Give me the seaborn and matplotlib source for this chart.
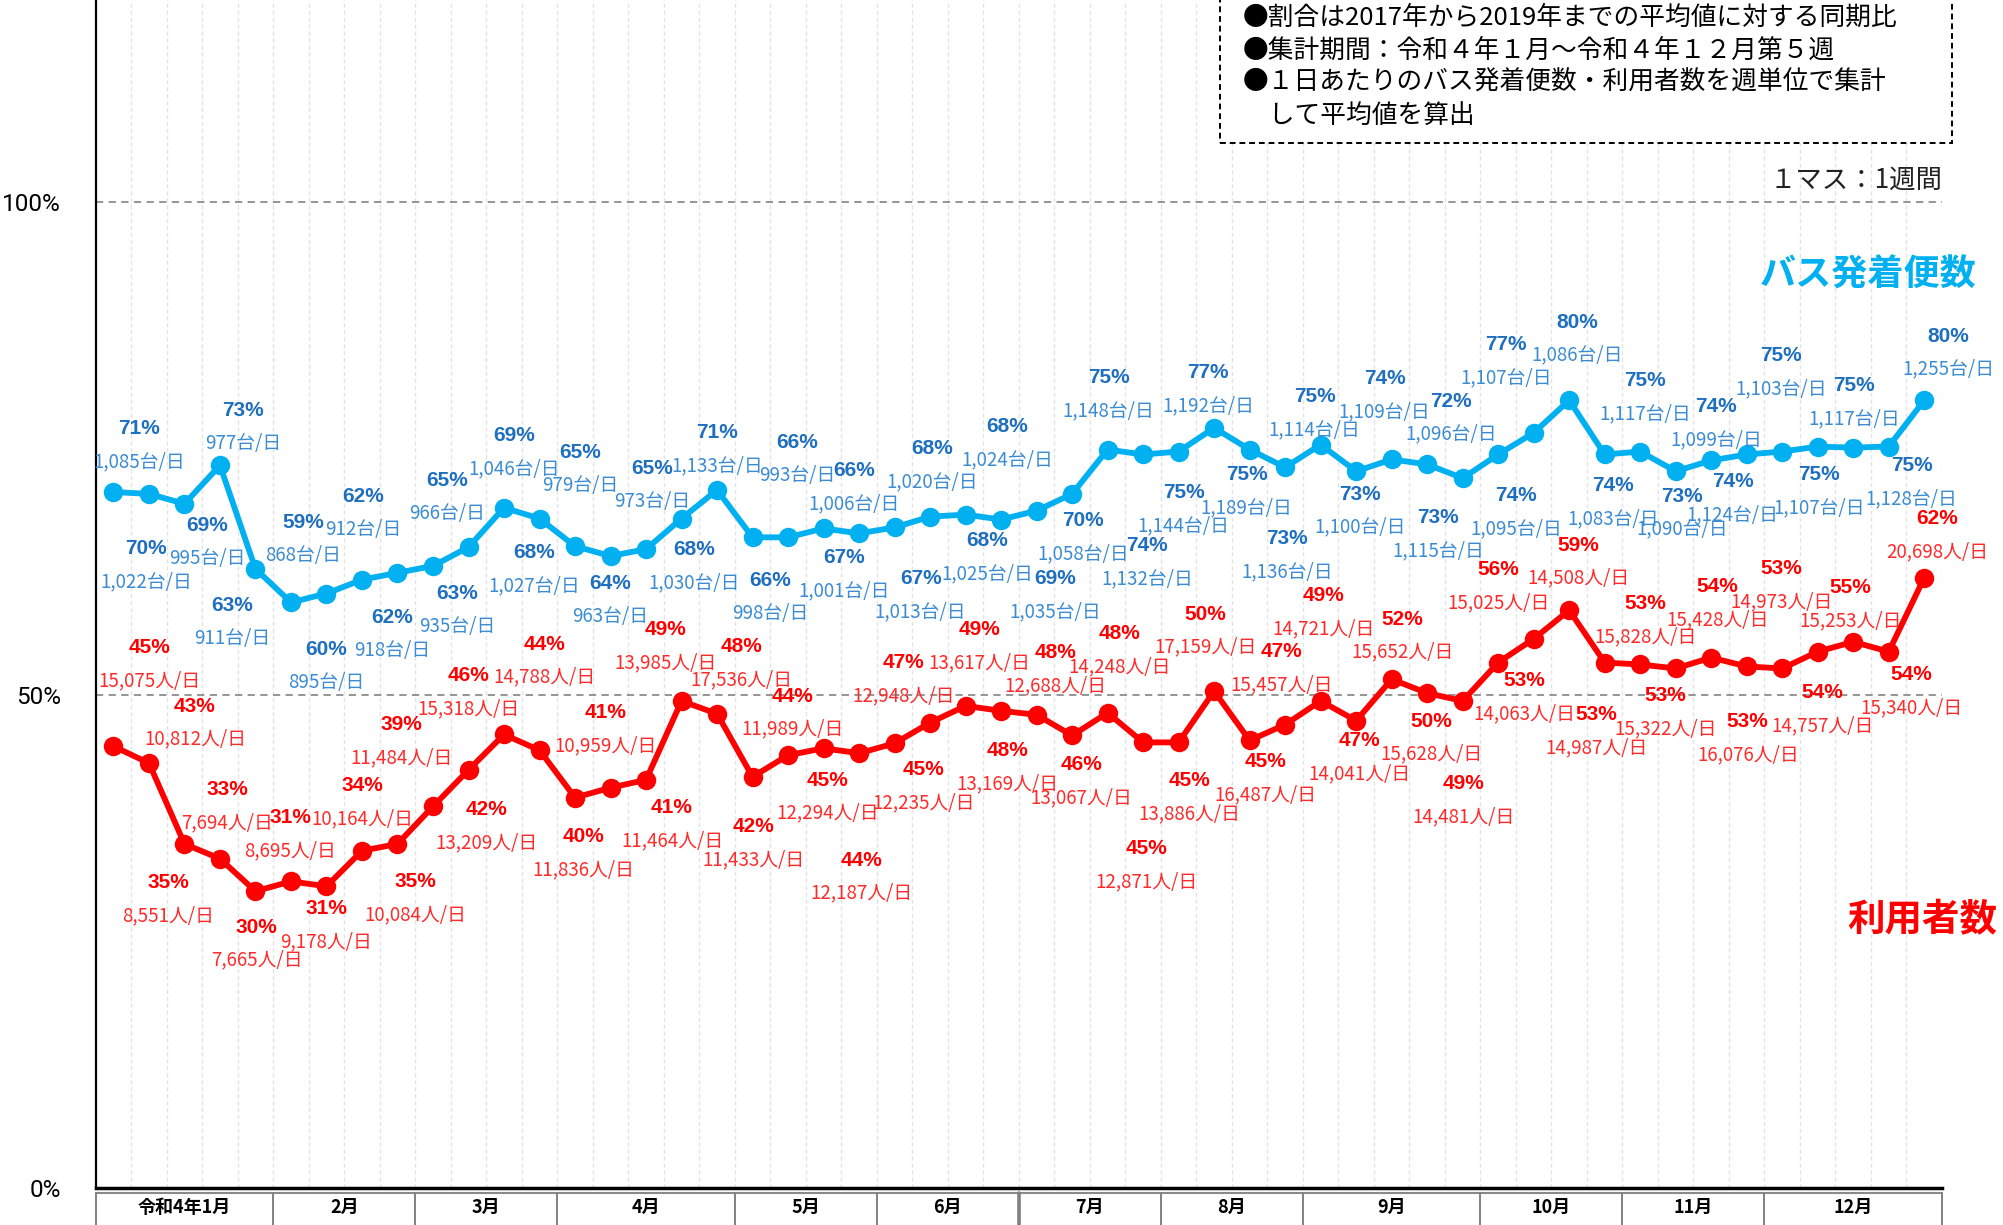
import numpy as np
import pandas as pd
import seaborn as sns
import matplotlib.pyplot as plt
from matplotlib.lines import Line2D
from matplotlib.patches import Rectangle
from matplotlib import font_manager

# ---- data ----
weeks = list(range(52))

bus_pct = [70.6, 70.4, 69.4, 73.3, 62.8, 59.4, 60.3, 61.7, 62.4, 63.1,
           65.0, 69.0, 67.9, 65.1, 64.1, 64.8, 67.9, 70.8, 66.0, 66.0,
           66.9, 66.4, 67.0, 68.1, 68.3, 67.8, 68.7, 70.4, 74.9, 74.4,
           74.7, 77.1, 74.9, 73.1, 75.4, 72.7, 73.9, 73.4, 72.0, 74.4,
           76.6, 79.9, 74.4, 74.7, 72.7, 73.8, 74.4, 74.7, 75.2, 75.1,
           75.2, 79.9]
bus_count = [1085, 1022, 995, 977, 911, 868, 895, 912, 918, 935,
             966, 1046, 1027, 979, 963, 973, 1030, 1133, 998, 993,
             1001, 1006, 1013, 1020, 1025, 1024, 1035, 1058, 1148, 1132,
             1144, 1192, 1189, 1136, 1114, 1100, 1109, 1115, 1096, 1095,
             1107, 1086, 1083, 1117, 1090, 1099, 1124, 1103, 1107, 1117,
             1128, 1255]

user_pct = [44.8, 43.1, 34.9, 33.4, 30.1, 31.1, 30.6, 34.2, 34.9, 38.7,
            42.4, 46.0, 44.4, 39.6, 40.6, 41.4, 49.4, 48.1, 41.7, 43.9,
            44.6, 44.1, 45.1, 47.2, 48.9, 48.4, 48.0, 45.9, 48.2, 45.2,
            45.2, 50.4, 45.4, 47.0, 49.4, 47.4, 51.6, 50.2, 49.4, 53.3,
            55.7, 58.6, 53.3, 53.1, 52.7, 53.8, 52.9, 52.7, 54.4, 55.4,
            54.4, 61.9]
user_count = [15075, 10812, 8551, 7694, 7665, 8695, 9178, 10164, 10084, 11484,
              13209, 15318, 14788, 11836, 10959, 11464, 13985, 17536, 11433, 11989,
              12294, 12187, 12235, 12948, 13617, 13169, 12688, 13067, 14248, 12871,
              13886, 17159, 16487, 15457, 14721, 14041, 15652, 15628, 14481, 14063,
              15025, 14508, 14987, 15828, 15322, 15428, 16076, 14973, 14757, 15253,
              15340, 20698]

months = ['令和4年1月', '2月', '3月', '4月', '5月', '6月',
          '7月', '8月', '9月', '10月', '11月', '12月']
month_weeks = [5, 4, 4, 5, 4, 4, 4, 4, 5, 4, 4, 5]

# label placement: pixel offset of the % line from its point (x right, y down)
bus_dx = [26, -3, 23, 23, -23, 12, 0, 1, -5, 24, -21, 10, -5, 5, 0, 6, 13, 0, 18, 9,
          20, -5, 26, 2, 22, 6, 19, 11, 1, 4, 5, -6, -3, 2, -6, 4, -7, 11, -12, 18,
          -28, 8, 8, 5, 6, 5, -14, -1, 1, 1, 23, 24]
bus_dy = [-63, 55, 22, -55, 37, -80, 56, -83, 45, 28, -67, -72, 34, -94, 27, -81, 31, -57, 43, -95,
          29, -63, 51, -68, 26, -93, 68, 27, -72, 91, 41, -55, 25, 71, -48, 23, -81, 53, -77, 41,
          -88, -78, 31, -71, 25, -54, 27, -96, 28, -62, 19, -64]
user_dx = [36, 46, -16, 7, 1, -1, 0, 0, 18, -32, 18, -36, 5, 8, -5, 26, -16, 24, 1, 4,
           4, 2, 29, -27, 14, 6, 19, 9, 12, 3, 11, -9, 16, -4, 3, 3, 11, 4, 1, 26,
           -35, 9, -8, 5, -10, 6, 1, -1, 5, -3, 23, 13]
user_dy = [-99, -57, 39, -69, 36, -64, 22, -65, 38, -82, 40, -59, -106, 39, -75, 28, -71, -67, 50, -59,
           32, 107, 26, -60, -76, 40, -62, 29, -79, 106, 38, -77, 21, -73, -105, 20, -60, 28, 83, 18,
           -69, -65, 52, -61, 27, -71, 55, -100, 41, -54, 23, -59]

BLUE = '#00B0F0'
BLUE_PCT = '#1E6FC0'
BLUE_CNT = '#3B8CD3'
RED = '#FF0000'
RED_CNT = '#FF2B2B'

sns.set_style('white')
plt.rcParams['font.family'] = ['Noto Sans CJK JP', 'DejaVu Sans']

# narrow face for the y tick labels, if there is one
narrow, narrow_size = 'Liberation Sans Narrow', 20
try:
    font_manager.findfont(narrow, fallback_to_default=False)
except ValueError:
    narrow, narrow_size = 'Roboto', 17.5

W, H = 2003, 1225
def fx(px):
    return px / W
def fy(py):
    return 1 - py / H

x0, x1, y_axis = 95.7, 1942, 1188
fig = plt.figure(figsize=(W / 100, H / 100), dpi=100)
ax = fig.add_axes([fx(x0), fy(y_axis), (x1 - x0) / W, y_axis / H])
ax.set_xlim(-0.5, 51.5)
ax.set_ylim(0, 120.5)

# faint weekly grid
bounds = np.arange(52) + 0.5
ax.vlines(bounds, 0, 120.5, colors='#E4E4E4', linestyles=(0, (3, 2)), lw=1, zorder=0)
for yv in (50, 100):
    ax.axhline(yv, color='#8C8C8C', ls=(0, (4, 3)), lw=1.3, zorder=1)

df = pd.DataFrame({'week': weeks, 'bus': bus_pct, 'user': user_pct})
sns.lineplot(data=df, x='week', y='bus', color=BLUE, lw=4.2, marker='o',
             markersize=14, markeredgewidth=0, ax=ax, zorder=3)
sns.lineplot(data=df, x='week', y='user', color=RED, lw=4.2, marker='o',
             markersize=14, markeredgewidth=0, ax=ax, zorder=3)
ax.set_xlabel('')
ax.set_ylabel('')

# point labels
for i in weeks:
    for v, n, dx, dy, unit, cp, cc in ((bus_pct[i], bus_count[i], bus_dx[i], bus_dy[i], '台', BLUE_PCT, BLUE_CNT),
                                       (user_pct[i], user_count[i], user_dx[i], user_dy[i], '人', RED, RED_CNT)):
        ax.annotate(f'{int(v + 0.5)}%', xy=(i, v), xytext=(dx, -dy), textcoords='offset pixels',
                    ha='center', va='center', fontsize=15, fontweight='bold',
                    family=['Liberation Sans', 'DejaVu Sans'], color=cp, zorder=4)
        ax.annotate(f'{n:,}{unit}/日', xy=(i, v), xytext=(dx, -dy - 33), textcoords='offset pixels',
                    ha='center', va='center', fontsize=13.5, color=cc, zorder=4)

# axes styling
for s in ('top', 'right'):
    ax.spines[s].set_visible(False)
ax.spines['left'].set_linewidth(1.6)
ax.spines['left'].set_color('black')
ax.spines['bottom'].set_linewidth(2.5)
ax.spines['bottom'].set_color('black')
ax.set_yticks([0, 50, 100])
ax.set_yticklabels(['0%', '50%', '100%'])
ax.tick_params(axis='y', length=19, width=2.4, direction='out', pad=6,
               labelsize=narrow_size, colors='black')
for lab in ax.get_yticklabels():
    lab.set_fontfamily(narrow)
ax.set_xticks(np.arange(53) - 0.5)
ax.tick_params(axis='x', direction='in', length=4, width=1, labelbottom=False, colors='black')

# month row under the axis
tr = ax.get_xaxis_transform()
ax.add_line(Line2D([-0.5, 51.5], [-0.004, -0.004], transform=tr, clip_on=False,
                   color='#8A8A8A', lw=1.5))
edges = np.concatenate([[0], np.cumsum(month_weeks)]) - 0.5
for k, e in enumerate(edges):
    ax.add_line(Line2D([e, e], [-0.004, -0.05], transform=tr, clip_on=False,
                       color='#808080', lw=2.6 if k == 6 else 1.4))
for k, m in enumerate(months):
    ax.text((edges[k] + edges[k + 1]) / 2, -0.016, m, transform=tr, ha='center', va='center',
            fontsize=13, fontweight='bold', color='black')

# note box
box = Rectangle((fx(1220), fy(143)), fx(1952) - fx(1220), fy(-10) - fy(143),
                transform=fig.transFigure, fill=True, fc='white', ec='black',
                ls=(0, (3, 2)), lw=1.4, zorder=5)
fig.add_artist(box)
notes = ['●割合は2017年から2019年までの平均値に対する同期比',
         '●集計期間：令和４年１月～令和４年１２月第５週',
         '●１日あたりのバス発着便数・利用者数を週単位で集計',
         '　して平均値を算出']
for k, t in enumerate(notes):
    fig.text(fx(1243), fy(18 + 32.5 * k), t, ha='left', va='center', fontsize=18.5,
             color='black', zorder=6)
fig.text(fx(1942), fy(180), '１マス：1週間', ha='right', va='center', fontsize=19, color='#222222')

fig.text(fx(1868), fy(275), 'バス発着便数', color=BLUE, fontsize=26, fontweight='bold',
         ha='center', va='center')
fig.text(fx(1922), fy(920), '利用者数', color=RED, fontsize=27, fontweight='bold',
         ha='center', va='center')

fig.savefig('out.png', dpi=100)
